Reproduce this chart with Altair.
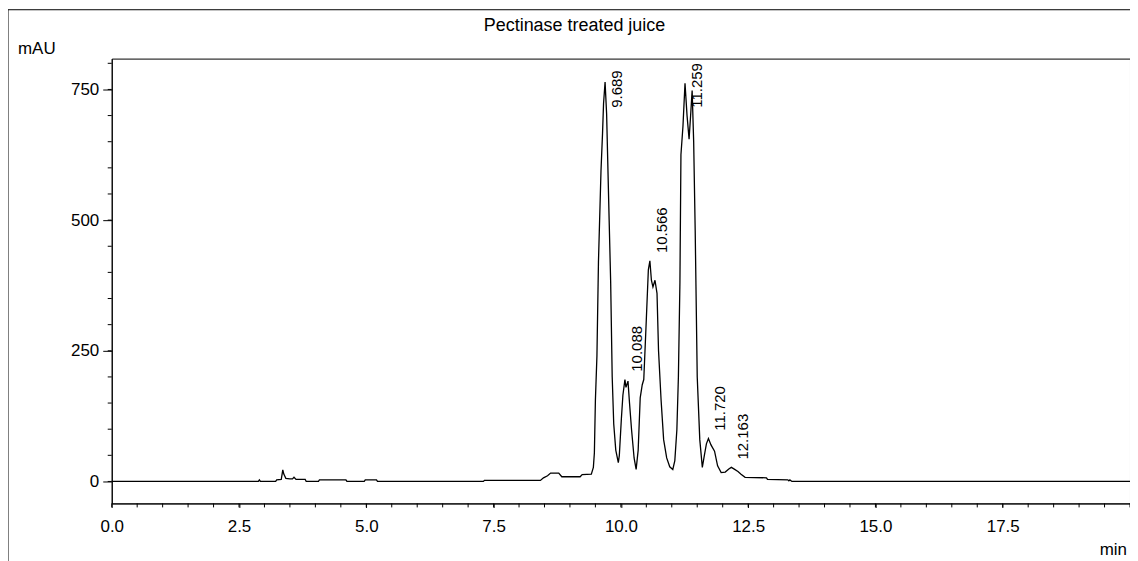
import altair as alt
import pandas as pd

# ---- data ----
time_min = [0.0, 2.88, 2.9, 2.92, 3.22, 3.24, 3.33, 3.36, 3.38, 3.42, 3.5, 3.55, 3.58, 3.62,
            3.8, 3.82, 4.06, 4.08, 4.6, 4.62, 4.96, 4.98, 5.2, 5.22, 7.3, 7.32, 8.42, 8.48,
            8.56, 8.62, 8.78, 8.84, 9.2, 9.24, 9.42, 9.46, 9.48, 9.50, 9.53, 9.56, 9.61, 9.64,
            9.66, 9.69, 9.72, 9.77, 9.80, 9.83, 9.86, 9.90, 9.95, 9.97, 10.01, 10.04, 10.08,
            10.10, 10.14, 10.17, 10.21, 10.26, 10.30, 10.34, 10.38, 10.42, 10.45, 10.50, 10.54,
            10.57, 10.60, 10.63, 10.67, 10.71, 10.74, 10.79, 10.84, 10.90, 10.96, 11.02, 11.06,
            11.10, 11.13, 11.16, 11.18, 11.22, 11.26, 11.30, 11.34, 11.37, 11.40, 11.43, 11.46,
            11.50, 11.55, 11.60, 11.64, 11.68, 11.72, 11.77, 11.84, 11.90, 11.97, 12.05, 12.12,
            12.17, 12.22, 12.30, 12.36, 12.44, 12.86, 12.88, 13.28, 13.30, 13.32, 13.36, 20.0]
signal_mau = [0, 0, 3, 0, 0, 3, 4, 22, 14, 6, 5, 5, 8, 4,
              4, 0, 0, 3, 3, 0, 0, 3, 3, 0, 0, 2, 2, 7,
              11, 16, 16, 9, 9, 13, 14, 27, 55, 156, 240, 420, 595, 666,
              723, 764, 704, 500, 380, 200, 110, 60, 36, 50, 120, 165, 195,
              180, 192, 150, 99, 45, 23, 60, 160, 185, 195, 310, 405,
              422, 385, 372, 385, 360, 250, 156, 80, 45, 28, 23, 40,
              99, 200, 380, 625, 680, 762, 700, 655, 700, 748, 650, 480,
              200, 80, 27, 50, 72, 82, 70, 58, 30, 17, 18, 24,
              27, 24, 19, 14, 8, 7, 4, 3, 1, 3, 0, 0]
peak_rt = [9.689, 10.088, 10.566, 11.259, 11.720, 12.163]
peak_text = ["9.689", "10.088", "10.566", "11.259", "11.720", "12.163"]
x_major = [0.0, 2.5, 5.0, 7.5, 10.0, 12.5, 15.0, 17.5]
x_minor = [i * 0.5 for i in range(41)]
y_major = [0, 250, 500, 750]
y_minor = list(range(0, 801, 50))
title_text = "Pectinase treated juice"
y_unit = "mAU"
x_unit = "min"

FONT = "Liberation Sans"
W, H = 1021, 446

trace = pd.DataFrame({"t": time_min, "v": signal_mau})


def apex(rt):
    vals = [v for t, v in zip(time_min, signal_mau) if abs(t - rt) <= 0.04]
    return max(vals)


labels = pd.DataFrame({
    "t": peak_rt,
    "label": peak_text,
    "ly": [min(apex(rt) + 15, 715) for rt in peak_rt],
})

xscale = alt.Scale(domain=[0, 20], nice=False, zero=False)
yscale = alt.Scale(domain=[-42, 809], nice=False, zero=False)

x_enc = alt.X("t:Q", scale=xscale, axis=alt.Axis(
    values=x_major, format=".1f", tickSize=4, title=None, grid=False,
    labelPadding=11, labelFontSize=17, labelFont=FONT, labelColor="black",
    labelFlush=False, labelOverlap=False, labelBound=False,
    domainColor="black", tickColor="black", domainWidth=1, tickWidth=1))
y_enc = alt.Y("v:Q", scale=yscale, axis=alt.Axis(
    values=y_major, tickSize=9, title=None, grid=False, labelPadding=4,
    labelFontSize=17, labelFont=FONT, labelColor="black", labelFlush=False,
    labelOverlap=False, domainColor="black", tickColor="black",
    domainWidth=1, tickWidth=1))

line = alt.Chart(trace).mark_line(color="black", strokeWidth=1.3).encode(x=x_enc, y=y_enc)

peak_labels = alt.Chart(labels).mark_text(
    angle=270, align="left", baseline="top", dy=5, fontSize=15, font=FONT, color="black"
).encode(x="t:Q", y="ly:Q", text="label:N")

minor_y = alt.Chart(pd.DataFrame({"v": y_minor})).mark_rule(color="black", strokeWidth=1).encode(
    y="v:Q", x=alt.value(-4), x2=alt.value(0))
minor_x = alt.Chart(pd.DataFrame({"t": x_minor})).mark_rule(color="black", strokeWidth=1).encode(
    x="t:Q", y=alt.value(H), y2=alt.value(H + 4))

one = pd.DataFrame({"a": [0]})
title = alt.Chart(pd.DataFrame({"s": [title_text]})).mark_text(
    fontSize=18, font=FONT, color="black", align="center", baseline="middle"
).encode(text="s:N", x=alt.value(464), y=alt.value(-33))
yunit = alt.Chart(pd.DataFrame({"s": [y_unit]})).mark_text(
    fontSize=17, font=FONT, color="black", align="left", baseline="middle"
).encode(text="s:N", x=alt.value(-94), y=alt.value(-10))
xunit = alt.Chart(pd.DataFrame({"s": [x_unit]})).mark_text(
    fontSize=17, font=FONT, color="black", align="right", baseline="middle"
).encode(text="s:N", x=alt.value(1018), y=alt.value(493))

frame_left = alt.Chart(one).mark_rule(color="black", strokeWidth=1).encode(
    x=alt.value(-104), y=alt.value(-49), y2=alt.value(600))
frame_top = alt.Chart(one).mark_rule(color="black", strokeWidth=1).encode(
    y=alt.value(-49), x=alt.value(-104), x2=alt.value(1030))

chart = alt.layer(
    line, peak_labels, minor_y, minor_x, title, yunit, xunit, frame_left, frame_top
).properties(
    width=W, height=H,
    autosize=alt.AutoSizeParams(type="none"),
    padding={"left": 104, "top": 50, "right": 0, "bottom": 57},
    background="white",
).configure_view(stroke="black", strokeWidth=1)

chart.save("out.html", embed_options={"renderer": "svg", "actions": False})
